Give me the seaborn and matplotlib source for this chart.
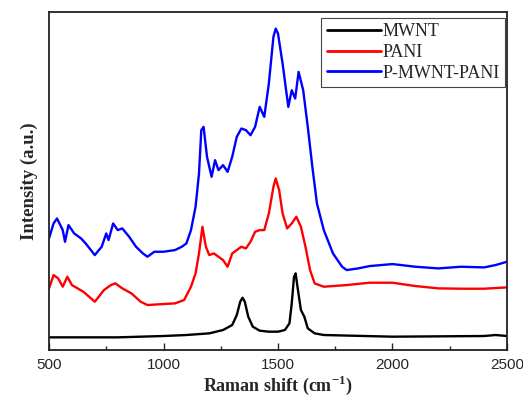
import pandas as pd
import seaborn as sns
import matplotlib.pyplot as plt
from matplotlib.ticker import MultipleLocator

# Raman spectra (intensity in arbitrary units)
mwnt_shift = [500, 800, 1000, 1100, 1200, 1260, 1300, 1320, 1335, 1345, 1355, 1370, 1390,
              1420, 1460, 1500, 1530, 1550, 1560, 1570, 1577, 1585, 1600, 1615, 1630, 1660,
              1700, 2000, 2400, 2450, 2500]
mwnt_int = [38, 38, 42, 45, 50, 60, 75, 105, 145, 157, 145, 100, 70,
            58, 55, 55, 60, 80, 140, 220, 230, 190, 120, 100, 65, 50,
            45, 40, 42, 45, 42]

pani_shift = [500, 520, 540, 560, 580, 600, 650, 700, 740, 770, 790, 820, 860, 900, 930,
              1000, 1050, 1090, 1120, 1140, 1155, 1170, 1185, 1200, 1220, 1260, 1280, 1300,
              1340, 1360, 1380, 1400, 1420, 1440, 1460, 1480, 1490, 1505, 1520, 1540, 1560,
              1580, 1600, 1620, 1640, 1660, 1700, 1800, 1900, 2000, 2100, 2200, 2300, 2400, 2500]
pani_int = [185, 225, 215, 190, 220, 195, 175, 145, 180, 195, 200, 185, 170, 145, 135,
            138, 140, 150, 190, 230, 290, 370, 310, 285, 290, 270, 250, 290,
            310, 305, 325, 355, 360, 360, 410, 490, 515, 480, 410, 365, 380,
            400, 370, 310, 240, 200, 190, 195, 202, 202, 192, 185, 184, 184, 188]

comp_shift = [500, 520, 535, 560, 570, 585, 610, 640, 660, 700, 730, 750, 760, 780, 800,
              820, 850, 880, 910, 930, 960, 1000, 1050, 1080, 1100, 1120, 1140, 1155, 1165,
              1175, 1190, 1210, 1225, 1240, 1260, 1280, 1300, 1320, 1340, 1360, 1380, 1400,
              1420, 1440, 1460, 1480, 1490, 1500, 1520, 1545, 1560, 1575, 1590, 1610, 1630,
              1650, 1670, 1700, 1740, 1780, 1800, 1850, 1900, 1950, 2000, 2100, 2200, 2300,
              2400, 2450, 2500]
comp_int = [335, 380, 395, 360, 325, 375, 350, 335, 320, 285, 310, 350, 330, 380, 360,
            365, 340, 310, 290, 280, 295, 295, 300, 310, 320, 360, 430, 530, 660,
            670, 580, 520, 570, 540, 555, 535, 580, 640, 665, 660, 645, 670,
            730, 700, 800, 940, 965, 950, 860, 730, 780, 755, 835, 780, 670,
            550, 440, 360, 290, 250, 240, 245, 252, 255, 258, 250, 245, 250,
            248, 255, 265]

labels = ['MWNT', 'PANI', 'P-MWNT-PANI']
colors = ['black', 'red', 'blue']

df = pd.concat([
    pd.DataFrame({'shift': mwnt_shift, 'intensity': mwnt_int, 'sample': labels[0]}),
    pd.DataFrame({'shift': pani_shift, 'intensity': pani_int, 'sample': labels[1]}),
    pd.DataFrame({'shift': comp_shift, 'intensity': comp_int, 'sample': labels[2]}),
], ignore_index=True)

sns.set_style('white')
plt.rcParams['mathtext.fontset'] = 'custom'
plt.rcParams['mathtext.rm'] = 'Liberation Serif'
plt.rcParams['mathtext.bf'] = 'Liberation Serif:bold'

fig = plt.figure(figsize=(5.23, 3.98), dpi=100)
ax = fig.add_axes([0.0937, 0.1206, 0.8757, 0.8494])

sns.lineplot(data=df, x='shift', y='intensity', hue='sample', hue_order=labels,
             palette=colors, estimator=None, sort=False, linewidth=1.7, ax=ax)

ax.set_xlim(500, 2500)
ax.set_ylim(0, 1015)
ax.set_yticks([])
ax.xaxis.set_major_locator(MultipleLocator(500))
ax.xaxis.set_minor_locator(MultipleLocator(250))
ax.tick_params(axis='x', which='major', direction='in', length=5, width=1, bottom=True,
               labelsize=11, pad=6)
ax.tick_params(axis='x', which='minor', direction='in', length=3, width=1, bottom=True)
for lab in ax.get_xticklabels():
    lab.set_family('Liberation Sans')
for s in ax.spines.values():
    s.set_color('#222222')
    s.set_linewidth(1.3)

ax.set_xlabel('Raman shift (cm$^{\\mathbf{-1}}$)', family='Liberation Serif',
              fontweight='bold', fontsize=13, labelpad=1)
ax.set_ylabel('Intensity (a.u.)', family='Liberation Serif', fontweight='bold',
              fontsize=13.5, labelpad=8)

leg = ax.legend(loc='upper right', bbox_to_anchor=(0.996, 0.982), fancybox=False,
                edgecolor='#444444', framealpha=1, handlelength=3.0, handletextpad=0.1,
                borderpad=0.3, labelspacing=0.2, borderaxespad=0,
                prop={'family': 'Liberation Serif', 'size': 13})
leg.get_frame().set_linewidth(0.8)
for line in leg.get_lines():
    line.set_linewidth(2)

fig.savefig('out.png', dpi=100)
